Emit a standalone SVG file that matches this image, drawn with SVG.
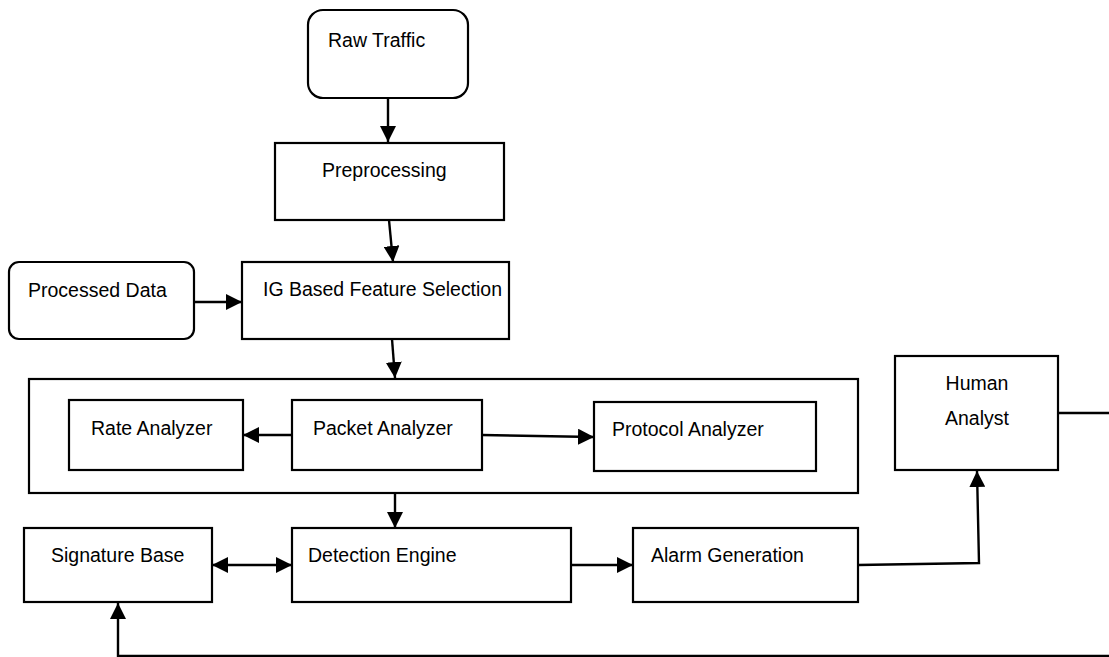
<svg xmlns="http://www.w3.org/2000/svg" width="1109" height="657" viewBox="0 0 1109 657">
<defs>
<style>
.box{fill:#fff;stroke:#000;stroke-width:2.2}
.lbl{font-family:"Liberation Sans",Arial,sans-serif;font-size:19.5px;fill:#000}
.c{fill:none;stroke:#000;stroke-width:2.4}
</style>
<marker id="ah" markerUnits="userSpaceOnUse" markerWidth="17" markerHeight="16" refX="16" refY="8" orient="auto-start-reverse">
<path d="M0,0 L16,8 L0,16 Z" fill="#000"/>
</marker>
</defs>
<rect width="1109" height="657" fill="#fff"/>
<g id="raw-traffic"><rect class="box" x="308" y="10" width="160" height="88" rx="15"/><text class="lbl" x="328" y="47">Raw Traffic</text></g>
<g id="preprocessing"><rect class="box" x="275" y="143" width="229" height="77"/><text class="lbl" x="322" y="177">Preprocessing</text></g>
<g id="processed-data"><rect class="box" x="9" y="262" width="185" height="77" rx="10"/><text class="lbl" x="28" y="297">Processed Data</text></g>
<g id="ig-feature-selection"><rect class="box" x="242" y="262" width="267" height="77"/><text class="lbl" x="263" y="296" textLength="239" lengthAdjust="spacingAndGlyphs">IG Based Feature Selection</text></g>
<g id="analyzer-group"><rect class="box" x="29" y="379" width="829" height="114"/></g>
<g id="rate-analyzer"><rect class="box" x="69" y="400" width="174" height="70"/><text class="lbl" x="91" y="435">Rate Analyzer</text></g>
<g id="packet-analyzer"><rect class="box" x="292" y="400" width="190" height="70"/><text class="lbl" x="313" y="435">Packet Analyzer</text></g>
<g id="protocol-analyzer"><rect class="box" x="594" y="402" width="222" height="69"/><text class="lbl" x="612" y="436">Protocol Analyzer</text></g>
<g id="signature-base"><rect class="box" x="24" y="528" width="188" height="74"/><text class="lbl" x="51" y="562">Signature Base</text></g>
<g id="detection-engine"><rect class="box" x="292" y="528" width="279" height="74"/><text class="lbl" x="308" y="562">Detection Engine</text></g>
<g id="alarm-generation"><rect class="box" x="633" y="528" width="225" height="74"/><text class="lbl" x="651" y="562">Alarm Generation</text></g>
<g id="human-analyst"><rect class="box" x="895" y="356" width="163" height="114"/><text class="lbl" x="977" y="390" text-anchor="middle">Human</text><text class="lbl" x="977" y="425" text-anchor="middle">Analyst</text></g>
<g id="connectors">
<line class="c" x1="388" y1="98" x2="388" y2="142" marker-end="url(#ah)"/>
<line class="c" x1="389" y1="220" x2="393" y2="262" marker-end="url(#ah)"/>
<line class="c" x1="194" y1="302" x2="242" y2="302" marker-end="url(#ah)"/>
<line class="c" x1="392" y1="339" x2="395" y2="378" marker-end="url(#ah)"/>
<line class="c" x1="292" y1="435" x2="243" y2="435" marker-end="url(#ah)"/>
<line class="c" x1="482" y1="435" x2="594" y2="437" marker-end="url(#ah)"/>
<line class="c" x1="395" y1="493" x2="395" y2="528" marker-end="url(#ah)"/>
<line class="c" x1="212" y1="565" x2="292" y2="565" marker-start="url(#ah)" marker-end="url(#ah)"/>
<line class="c" x1="571" y1="565" x2="633" y2="565" marker-end="url(#ah)"/>
<polyline class="c" points="858,565 979,563 977,471" marker-end="url(#ah)"/>
<line class="c" x1="1058" y1="413" x2="1109" y2="413"/>
<polyline class="c" points="1109,656 118,656 118,603" stroke="#444" marker-end="url(#ah)"/>
</g>
</svg>
